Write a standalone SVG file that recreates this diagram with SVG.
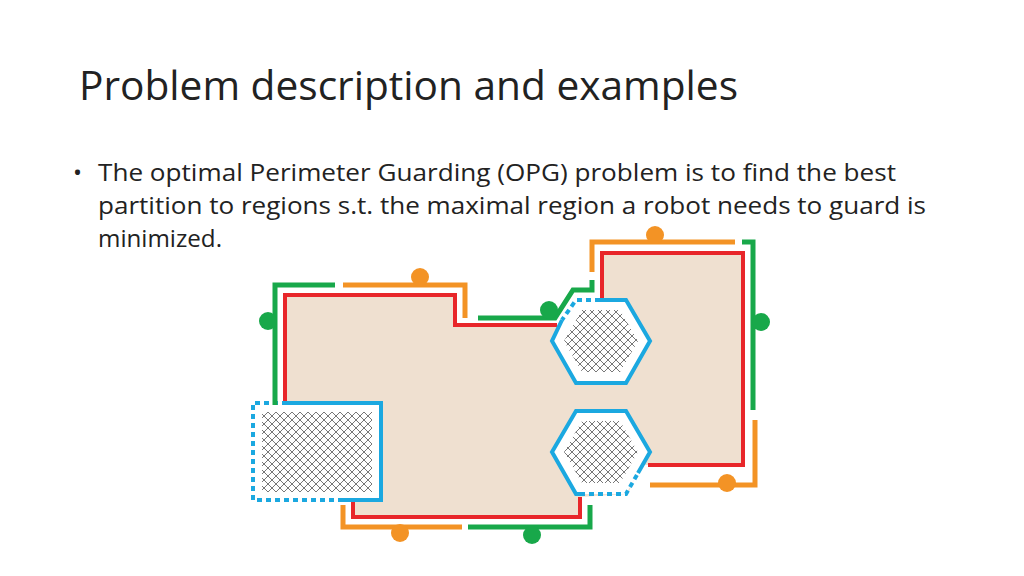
<svg xmlns="http://www.w3.org/2000/svg" width="1024" height="576" viewBox="0 0 1024 576">
<defs>
<pattern id="h" width="8" height="8" patternUnits="userSpaceOnUse">
<rect width="8" height="8" fill="#fff"/>
<path d="M0 0L8 8M8 0L0 8" stroke="#777" stroke-width="1"/>
</pattern>
<style>
.t{font-family:"Open Sans","Liberation Sans",sans-serif;fill:#222}
.r{fill:none;stroke:#E8262A;stroke-width:4}
.g{fill:none;stroke:#18A84A;stroke-width:5}
.o{fill:none;stroke:#F39325;stroke-width:5}
.b{fill:none;stroke:#1BA8E0;stroke-width:4}
.bd{fill:none;stroke:#1BA8E0;stroke-width:4;stroke-dasharray:5 4}
</style>
</defs>
<rect width="1024" height="576" fill="#fff"/>
<text class="t" x="79" y="100" font-size="40" textLength="659" lengthAdjust="spacingAndGlyphs">Problem description and examples</text>
<g class="t" font-size="24">
<text x="73" y="181">•</text>
<text x="98" y="181" textLength="798" lengthAdjust="spacingAndGlyphs">The optimal Perimeter Guarding (OPG) problem is to find the best</text>
<text x="98" y="214" textLength="828" lengthAdjust="spacingAndGlyphs">partition to regions s.t. the maximal region a robot needs to guard is</text>
<text x="98" y="247" textLength="124" lengthAdjust="spacingAndGlyphs">minimized.</text>
</g>
<g id="region">
<polygon points="285,295 455,295 455,325 600,325 600,253 743,253 743,465 640,465 628,494 580,497 580,517 353,517 353,500 285,500" fill="#EFE0D0"/>
<polyline class="r" points="285,405 285,295 455,295 455,325 557,325"/>
<polyline class="r" points="602,300 602,253 743,253 743,465 648,465"/>
<polyline class="r" points="353,500 353,517 580,517 580,497"/>
</g>
<g id="obstacles">
<polygon points="552,341 576,300 626,300 650,341 626,383 576,383" fill="#fff"/>
<polygon points="564,341 582,310 620,310 638,341 620,372 582,372" fill="url(#h)"/>
<polyline class="b" points="562,320 552,341 576,383 626,383 650,341 626,300 600,300"/>
<polyline class="bd" points="600,300 576,300 562,320"/>
<polygon points="552,452 576,411 626,411 650,452 626,494 576,494" fill="#fff"/>
<polygon points="564,452 582,421 620,421 638,452 620,483 582,483" fill="url(#h)"/>
<polyline class="b" points="638,473 650,452 626,411 576,411 552,452 576,494 580,494"/>
<polyline class="bd" points="580,494 626,494 638,473"/>
<rect x="253" y="403" width="128" height="97" fill="#fff"/>
<rect x="262" y="412" width="110" height="80" fill="url(#h)"/>
<polyline class="b" points="283,403 381,403 381,500 343,500"/>
<polyline class="bd" points="343,500 253,500 253,403 283,403"/>
</g>
<g id="guards">
<polyline class="g" points="275,405 275,285 335,285"/>
<polyline class="o" points="343,285 465,285 465,318"/>
<polyline class="g" points="478,318 555,318 573,290 592,290 592,280"/>
<polyline class="o" points="592,272 592,242 735,242"/>
<polyline class="g" points="742,242 753,242 753,410"/>
<polyline class="o" points="755,420 755,485 650,485"/>
<polyline class="o" points="343,505 343,527 462,527"/>
<polyline class="g" points="468,527 590,527 590,505"/>
<circle cx="268" cy="321" r="9" fill="#18A84A"/>
<circle cx="420" cy="277" r="9" fill="#F39325"/>
<circle cx="549" cy="310" r="9" fill="#18A84A"/>
<circle cx="655" cy="235" r="9" fill="#F39325"/>
<circle cx="761" cy="322" r="9" fill="#18A84A"/>
<circle cx="727" cy="483" r="9" fill="#F39325"/>
<circle cx="400" cy="533" r="9" fill="#F39325"/>
<circle cx="532" cy="535" r="9" fill="#18A84A"/>
</g>
</svg>
